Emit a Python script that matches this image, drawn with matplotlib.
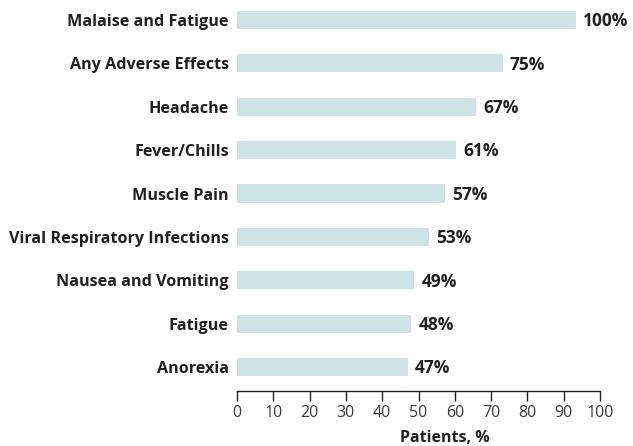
import matplotlib
matplotlib.use("Agg")
import matplotlib.pyplot as plt

categories = ["Malaise and Fatigue", "Any Adverse Effects", "Headache", "Fever/Chills",
              "Muscle Pain", "Viral Respiratory Infections", "Nausea and Vomiting",
              "Fatigue", "Anorexia"]
bar_values = [93.4, 73.2, 65.9, 60.4, 57.3, 52.9, 48.8, 48.0, 47.0]
value_labels = ["100%", "75%", "67%", "61%", "57%", "53%", "49%", "48%", "47%"]
xticks = [0, 10, 20, 30, 40, 50, 60, 70, 80, 90, 100]

txt = "#231f20"
plt.rcParams['font.family'] = ['Open Sans', 'DejaVu Sans']

fig = plt.figure(figsize=(6.33, 4.46), dpi=100)
ax = fig.add_axes([237/633, 1 - 391/446, 363/633, 391/446])

y = list(range(len(categories)))
ax.barh(y, bar_values, height=0.42, color="#cde3e6", edgecolor="none")
for yi, v, lab in zip(y, bar_values, value_labels):
    ax.text(v + 2.0, yi + 0.03, lab, va="center", ha="left", fontsize=12.5,
            fontweight="bold", color=txt)

ax.set_xlim(0, 100)
ax.set_ylim(8.55, -0.46)
ax.set_yticks(y)
ax.set_yticklabels(categories, fontsize=11.6, fontweight="bold", color=txt)
ax.tick_params(axis="y", length=0, pad=6)
ax.set_xticks(xticks)
ax.set_xticklabels([str(t) for t in xticks], fontsize=11.5, color="#3a3a3a")
ax.tick_params(axis="x", direction="out", length=7, width=1, color=txt, pad=3)
for s in ["left", "right", "top"]:
    ax.spines[s].set_visible(False)
ax.spines["bottom"].set_color(txt)
ax.spines["bottom"].set_linewidth(1)
ax.set_xlabel("Patients, %", fontsize=11.5, fontweight="bold", color=txt)
ax.xaxis.set_label_coords(0.574, -0.1)

fig.savefig("out.png", dpi=100)
